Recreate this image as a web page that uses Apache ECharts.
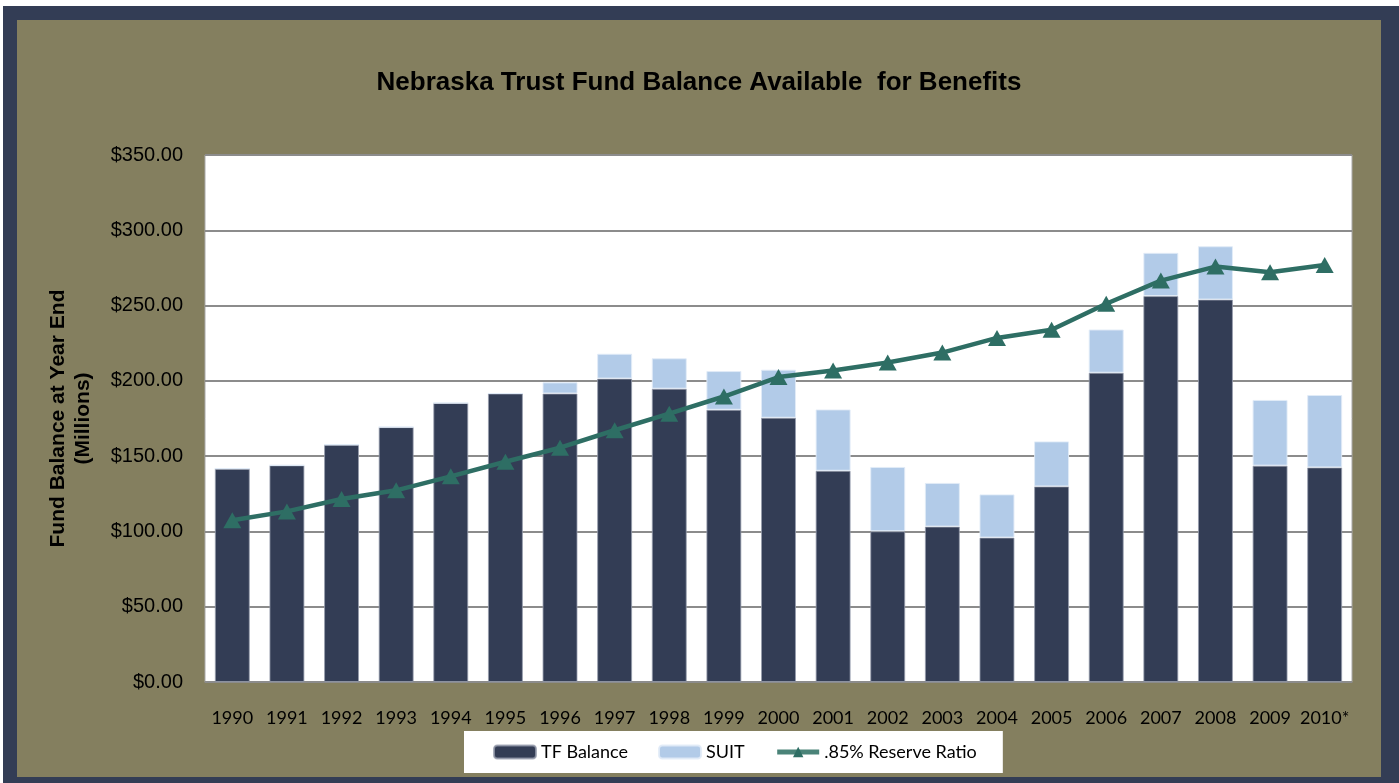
<!DOCTYPE html>
<html>
<head>
<meta charset="utf-8">
<script src="https://cdn.jsdelivr.net/npm/echarts@6/dist/echarts.min.js"></script>
<style>
  html, body { margin: 0; padding: 0; background: #ffffff; width: 1399px; height: 783px; overflow: hidden; }
  #frame { position: absolute; left: 3px; top: 6px; width: 1410px; height: 800px; background: #333d55; }
  #chart { position: absolute; left: 14px; top: 14px; width: 1364px; height: 757px; }
</style>
</head>
<body>
<div id="frame"><div id="chart"></div></div>
<script>
// Year-end fund balances, millions of dollars
const years = ['1990', '1991', '1992', '1993', '1994', '1995', '1996', '1997', '1998', '1999', '2000',
               '2001', '2002', '2003', '2004', '2005', '2006', '2007', '2008', '2009', '2010*'];
const tfBalance = [141.7, 143.9, 157.6, 169.3, 185.3, 191.6, 191.6, 201.5, 194.8, 180.8, 175.5,
                   140.3, 100.1, 103.2, 95.9, 129.9, 205.4, 256.3, 254.0, 143.7, 142.5];
const suit = [0, 0, 0, 0, 0, 0, 7.4, 16.5, 20.2, 25.7, 31.9,
              40.7, 42.7, 29.0, 28.7, 29.9, 28.7, 28.7, 35.4, 43.6, 48.1];
const reserveRatio = [107.4, 113.3, 121.5, 127.3, 136.6, 146.3, 155.6, 167.2, 178.2, 189.6, 202.5,
                      206.9, 212.2, 218.8, 228.5, 233.9, 251.2, 266.6, 275.9, 272.2, 277.0];
const yTicks = { min: 0, max: 350, interval: 50 };

const chart = echarts.init(document.getElementById('chart'), null, { renderer: 'canvas' });

chart.setOption({
  backgroundColor: '#847f5f',
  animation: false,
  title: {
    text: 'Nebraska Trust Fund Balance Available  for Benefits',
    left: 'center',
    top: 45,
    textStyle: { fontFamily: 'Liberation Sans', fontWeight: 'bold', fontSize: 26, color: '#000000' }
  },
  legend: {
    left: 447,
    top: 711,
    width: 543,
    height: 38,
    padding: [12, 26, 12, 29],
    itemGap: 30,
    itemWidth: 42,
    itemHeight: 13,
    backgroundColor: '#ffffff',
    textStyle: { fontFamily: 'Lato', fontSize: 18, color: '#000000' },
    data: [
      'TF Balance',
      'SUIT',
      { name: '.85% Reserve Ratio', lineStyle: { width: 5, color: '#4a8378' } }
    ]
  },
  grid: {
    left: 188,
    top: 135,
    right: 29,
    bottom: 95,
    show: true,
    backgroundColor: '#ffffff',
    borderColor: '#a9a9a9',
    borderWidth: 1
  },
  xAxis: {
    type: 'category',
    data: years,
    axisLine: { show: true, lineStyle: { color: '#8c8c8c', width: 1 } },
    axisTick: { show: false },
    axisLabel: { fontFamily: 'Lato', fontSize: 18, color: '#000000', margin: 27, interval: 0 }
  },
  yAxis: {
    type: 'value',
    min: yTicks.min,
    max: yTicks.max,
    interval: yTicks.interval,
    name: 'Fund Balance at Year End\n(Millions)',
    nameLocation: 'middle',
    nameGap: 109,
    nameTextStyle: { fontFamily: 'Liberation Sans', fontWeight: 'bold', fontSize: 21, color: '#000000', lineHeight: 25 },
    axisLine: { show: false },
    axisTick: { show: false },
    splitLine: { lineStyle: { color: '#8c8c8c', width: 2 } },
    axisLabel: {
      fontFamily: 'Liberation Sans', fontSize: 20, color: '#000000', margin: 22,
      formatter: v => '$' + v.toFixed(2)
    }
  },
  series: [
    {
      name: 'TF Balance',
      type: 'bar',
      stack: 'fund',
      barWidth: '64%',
      data: tfBalance,
      itemStyle: { color: '#333d55', borderColor: 'rgba(150,156,172,0.8)', borderWidth: 1 }
    },
    {
      name: 'SUIT',
      type: 'bar',
      stack: 'fund',
      barWidth: '64%',
      data: suit,
      itemStyle: { color: '#b2cbe8', borderColor: 'rgba(225,235,247,0.9)', borderWidth: 1 }
    },
    {
      name: '.85% Reserve Ratio',
      type: 'line',
      data: reserveRatio,
      symbol: 'triangle',
      symbolSize: [18, 16],
      showAllSymbol: true,
      lineStyle: { color: '#2e6e64', width: 4.5 },
      itemStyle: { color: '#2e6e64' },
      z: 5
    }
  ]
});
</script>
</body>
</html>
